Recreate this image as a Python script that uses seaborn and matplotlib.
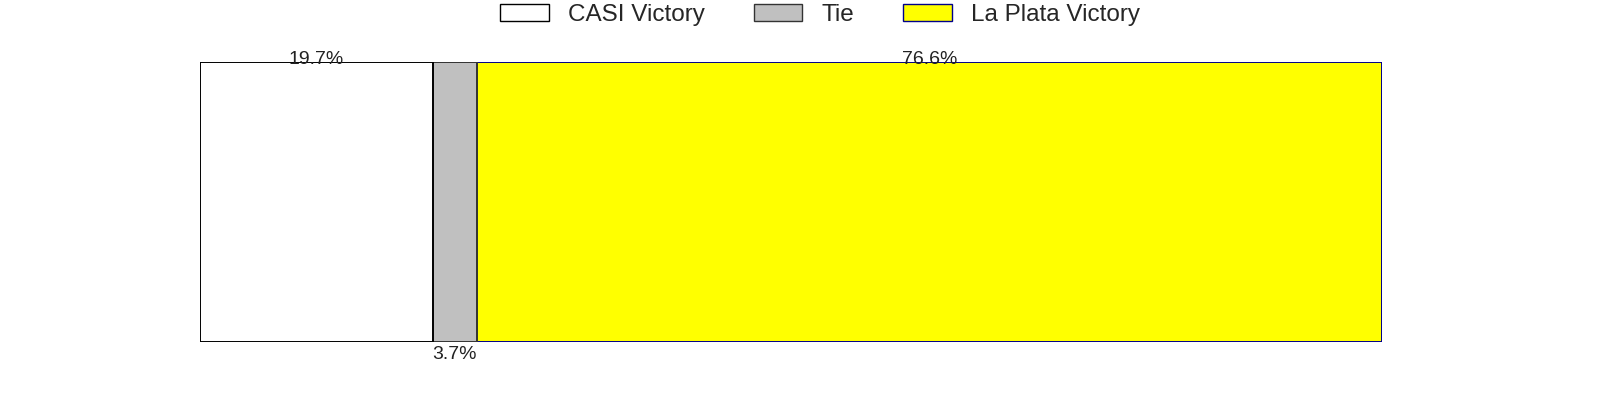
import pandas as pd
import matplotlib.pyplot as plt
import seaborn as sns
from matplotlib.patches import Patch

categories = ['CASI Victory', 'Tie', 'La Plata Victory']
shares = [19.7, 3.7, 76.6]
fill_colors = ['#FFFFFF', '#C0C0C0', '#FFFF00']
edge_colors = ['#000000', '#333333', '#00008B']

sns.set_style('white')
plt.rcParams['font.family'] = ['Liberation Sans', 'DejaVu Sans']

df = pd.DataFrame({'outcome': categories, 'share': shares})
df['end'] = df['share'].cumsum()
df['start'] = df['end'] - df['share']
df['row'] = 'match'

fig = plt.figure(figsize=(16, 4), dpi=100)
ax = fig.add_axes([0.125, 0.145, 0.739, 0.70])

# stacked bar drawn as overlapping cumulative bars, widest first
for i in reversed(range(len(df))):
    sns.barplot(data=df.iloc[[i]], x='end', y='row', orient='h', width=1.0,
                color=fill_colors[i], edgecolor=edge_colors[i], linewidth=1.4,
                saturation=1, ax=ax)

ax.set_xlim(0, df['end'].iloc[-1])
ax.set_ylim(0.5, -0.5)
ax.axis('off')

for i, r in df.iterrows():
    mid = (r['start'] + r['end']) / 2
    txt = f"{r['share']:.1f}%"
    if r['share'] < 10:
        ax.text(mid, 0.515, txt, ha='center', va='top', fontsize=14, color='#222222')
    else:
        ax.text(mid, -0.478, txt, ha='center', va='bottom', fontsize=14, color='#222222')

handles = [Patch(facecolor=c, edgecolor=e, label=l)
           for l, c, e in zip(categories, fill_colors, edge_colors)]
fig.legend(handles=handles, loc='upper center', bbox_to_anchor=(0.5125, 1.045), ncol=3,
           frameon=False, fontsize=17.5, handlelength=2.0, handleheight=0.7,
           handletextpad=0.8, columnspacing=2.0)

fig.savefig('out.png', dpi=100)
plt.close()
